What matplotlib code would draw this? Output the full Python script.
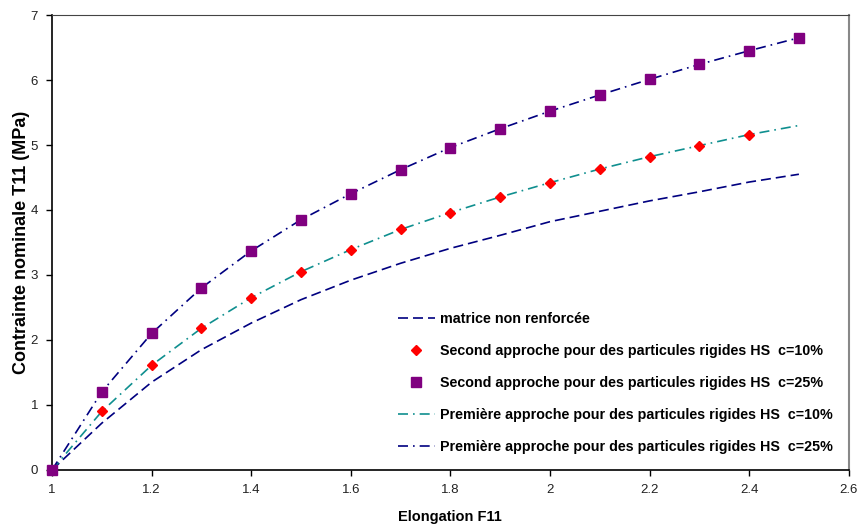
import numpy as np
import matplotlib.pyplot as plt

plt.rcParams['font.family'] = ['Liberation Sans', 'DejaVu Sans']

# elongation values
F11 = [1.0, 1.1, 1.2, 1.3, 1.4, 1.5, 1.6, 1.7, 1.8, 1.9, 2.0, 2.1, 2.2, 2.3, 2.4, 2.5]

# nominal stress T11 (MPa)
matrice = [0, 0.72, 1.35, 1.85, 2.26, 2.62, 2.92, 3.18, 3.41, 3.61, 3.82, 3.98, 4.14, 4.28, 4.43, 4.55]
second_10 = [0, 0.90, 1.61, 2.18, 2.65, 3.05, 3.39, 3.70, 3.96, 4.20, 4.42, 4.63, 4.82, 4.99, 5.16]
second_25 = [0, 1.20, 2.10, 2.80, 3.37, 3.85, 4.25, 4.62, 4.96, 5.25, 5.52, 5.77, 6.01, 6.24, 6.45, 6.65]
premiere_10 = [0, 0.90, 1.61, 2.18, 2.65, 3.05, 3.39, 3.70, 3.96, 4.20, 4.42, 4.63, 4.82, 4.99, 5.16, 5.30]
premiere_25 = second_25

labels = ['matrice non renforcée',
          'Second approche pour des particules rigides HS  c=10%',
          'Second approche pour des particules rigides HS  c=25%',
          'Première approche pour des particules rigides HS  c=10%',
          'Première approche pour des particules rigides HS  c=25%']

fig = plt.figure(figsize=(8.59, 5.25), dpi=100)
ax = fig.add_axes([0.0605, 0.1048, 0.9275, 0.8666])

dash = (0, (6, 3))
dashdot = (0, (6, 3, 1, 3))

l_mat, = ax.plot(F11, matrice, color='#000080', lw=1.2, linestyle=dash)
l_p10, = ax.plot(F11, premiere_10, color='#0f8f8f', lw=1.2, linestyle=dashdot)
l_p25, = ax.plot(F11, premiere_25, color='#000080', lw=1.2, linestyle=dashdot)
m_s10, = ax.plot(F11[:len(second_10)], second_10, linestyle='none', marker='D',
                 ms=5.5, color='#ff0000', clip_on=False, zorder=3)
m_s25, = ax.plot(F11, second_25, linestyle='none', marker='s',
                 ms=7.5, color='#800080', clip_on=False, zorder=4)

ax.set_xlim(1, 2.6)
ax.set_ylim(0, 7)
ax.set_xticks(np.arange(1, 2.61, 0.2))
ax.set_xticklabels(['1', '1.2', '1.4', '1.6', '1.8', '2', '2.2', '2.4', '2.6'])
ax.set_yticks(range(0, 8))
ax.tick_params(direction='out', length=4, width=1, labelsize=9.5, pad=6,
               labelcolor='#222222')

for side in ['left', 'bottom']:
    ax.spines[side].set_color('black')
    ax.spines[side].set_linewidth(1.2)
ax.spines['top'].set_color('#444444')
ax.spines['right'].set_color('#888888')
ax.spines['right'].set_linewidth(1.5)

ax.set_xlabel('Elongation F11', fontsize=10.5, fontweight='bold', labelpad=10)
ax.set_ylabel('Contrainte nominale T11 (MPa)', fontsize=13, fontweight='bold')
ax.yaxis.label.set_va('center')
ax.yaxis.set_label_coords(-0.038, 0.5)

ax.legend([l_mat, m_s10, m_s25, l_p10, l_p25], labels,
          loc='lower right', bbox_to_anchor=(1.0, 0.0), frameon=False,
          prop={'weight': 'bold', 'size': 10.3}, labelspacing=1.27,
          handlelength=2.6, handletextpad=0.35, borderaxespad=0.7)

fig.savefig('out.png', dpi=100)
